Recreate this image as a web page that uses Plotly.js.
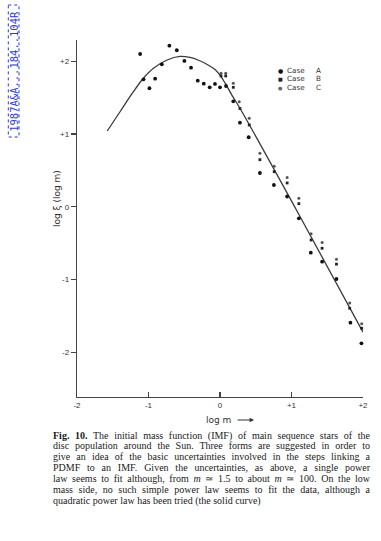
<!DOCTYPE html>
<html><head><meta charset="utf-8">
<script src="https://cdn.plot.ly/plotly-3.0.1.min.js"></script>
<style>
html,body{margin:0;padding:0;background:#fff;}
#wrap{position:relative;width:381px;height:541px;overflow:hidden;background:#fff;}
#chart{position:absolute;left:0;top:0;width:381px;height:541px;}
#caption{position:absolute;left:53px;top:430.5px;width:317px;font-family:"Liberation Serif","Times New Roman",serif;font-size:10px;line-height:10.9px;color:#1a1a1a;}
#caption div{text-align:justify;text-align-last:justify;}
#caption div.last{text-align-last:left;}
</style></head>
<body>
<div id="wrap">
<div id="chart"></div>
<div id="caption">
<div><b>Fig. 10.</b> The initial mass function (IMF) of main sequence stars of the</div>
<div>disc population around the Sun. Three forms are suggested in order to</div>
<div>give an idea of the basic uncertainties involved in the steps linking a</div>
<div>PDMF to an IMF. Given the uncertainties, as above, a single power</div>
<div>law seems to fit although, from <i>m</i> ≃ 1.5 to about <i>m</i> ≃ 100. On the low</div>
<div>mass side, no such simple power law seems to fit the data, although a</div>
<div class="last">quadratic power law has been tried (the solid curve)</div>
</div>
</div>
<script>
// ---- data ----
const caseA_logm = [-1.117,-1.070,-0.987,-0.907,-0.814,-0.708,-0.604,-0.498,-0.405,-0.311,-0.227,-0.144,-0.070,0.000,0.084,0.186,0.279,0.401,0.558,0.754,0.939,1.103,1.270,1.428,1.629,1.824,1.978,2.014];
const caseA_logxi = [2.099,1.751,1.628,1.760,1.957,2.213,2.150,2.003,1.911,1.732,1.691,1.641,1.687,1.641,1.659,1.449,1.155,0.955,0.464,0.299,0.141,-0.158,-0.630,-0.754,-0.992,-1.592,-1.875,-2.576];

const caseB_logm = [0.014,0.080,0.186,0.279,0.409,0.558,0.758,0.939,1.103,1.274,1.428,1.629,1.814,1.982,2.014];
const caseB_logxi = [1.797,1.797,1.641,1.350,1.124,0.647,0.482,0.327,0.043,-0.456,-0.570,-0.788,-1.394,-1.669,-2.400];

const caseC_logm = [0.014,0.080,0.186,0.269,0.409,0.558,0.758,0.939,1.103,1.274,1.428,1.629,1.814,1.982,2.014];
const caseC_logxi = [1.834,1.834,1.696,1.444,1.216,0.735,0.556,0.402,0.117,-0.370,-0.490,-0.721,-1.321,-1.606,-2.310];

const curve_logm = [-1.577,-1.396,-1.214,-1.075,-0.935,-0.740,-0.558,-0.419,-0.307,-0.167,-0.070,0.000,0.070,0.181,0.279,1.117,2.000];
const curve_logxi = [1.041,1.309,1.577,1.762,1.900,2.016,2.065,2.051,2.016,1.948,1.886,1.810,1.701,1.510,1.353,-0.130,-1.723];

const tickVals = [-2,-1,0,1,2];
const xTickText = ['-2','-1','0','+1','+2'];
const yTickText = ['-2','-1','0','+1','+2'];

const legendNames = ['Case','Case','Case'];
const legendLetters = ['A','B','C'];

const stampText = '1987A&A...184..104R';
const yTitle = 'log ξ (log m)';
const xTitle = 'log m';

// ---- layout helpers (pixel -> paper) ----
const W = 381, H = 541, ML = 77, MR = 18, MT = 40, MB = 144;
const PW = W - ML - MR, PH = H - MT - MB;
const px = x => (x - ML) / PW;
const py = y => (H - MB - y) / PH;

const traces = [
  {x: curve_logm, y: curve_logxi, mode: 'lines', line: {color: '#3a3a3a', width: 1.3, shape: 'spline', smoothing: 0.8}, hoverinfo: 'skip', showlegend: false},
  {x: caseC_logm, y: caseC_logxi, mode: 'markers', name: 'Case C', marker: {symbol: 'circle', size: 3, color: '#555'}, cliponaxis: false, showlegend: false},
  {x: caseB_logm, y: caseB_logxi, mode: 'markers', name: 'Case B', marker: {symbol: 'square', size: 2.8, color: '#222'}, cliponaxis: false, showlegend: false},
  {x: caseA_logm, y: caseA_logxi, mode: 'markers', name: 'Case A', marker: {symbol: 'circle', size: 3.8, color: '#111'}, cliponaxis: false, showlegend: false}
];

const ann = [];
// y title
ann.push({xref: 'paper', yref: 'paper', x: px(57), y: py(199), text: yTitle, textangle: -90, showarrow: false,
  xanchor: 'center', yanchor: 'middle', font: {family: 'DejaVu Sans', size: 9, color: '#333'}});
// x title
ann.push({xref: 'paper', yref: 'paper', x: px(233), y: py(420), text: xTitle, showarrow: false,
  xanchor: 'right', yanchor: 'middle', font: {family: 'DejaVu Sans', size: 9, color: '#333'}});
ann.push({xref: 'paper', yref: 'paper', x: px(254), y: py(420), ax: -18, ay: 0, text: '', showarrow: true,
  arrowhead: 2, arrowsize: 0.8, arrowwidth: 1.1, arrowcolor: '#333'});
// legend
const legStyle = [
  {g: '●', s: 6, c: '#111'},
  {g: '■', s: 5, c: '#222'},
  {g: '●', s: 5, c: '#666'}
];
for (let i = 0; i < 3; i++) {
  const yy = 70.5 + 8.5 * i;
  ann.push({xref: 'paper', yref: 'paper', x: px(280.5), y: py(yy), text: legStyle[i].g, showarrow: false,
    xanchor: 'center', yanchor: 'middle', borderpad: 0, font: {family: 'DejaVu Sans', size: legStyle[i].s, color: legStyle[i].c}});
  ann.push({xref: 'paper', yref: 'paper', x: px(286), y: py(yy), text: legendNames[i], showarrow: false,
    xanchor: 'left', yanchor: 'middle', borderpad: 0, font: {family: 'DejaVu Sans', size: 7.2, color: '#333'}});
  ann.push({xref: 'paper', yref: 'paper', x: px(318.5), y: py(yy), text: legendLetters[i], showarrow: false,
    xanchor: 'center', yanchor: 'middle', borderpad: 0, font: {family: 'DejaVu Sans', size: 7.2, color: '#333'}});
}
// stamp
ann.push({xref: 'paper', yref: 'paper', x: px(13.8), y: py(71), text: stampText, textangle: -90, showarrow: false,
  xanchor: 'center', yanchor: 'middle', font: {family: 'DejaVu Sans Mono', size: 10.5, color: '#2b3bd6'}});

const shapes = [
  {type: 'rect', xref: 'paper', yref: 'paper', x0: px(8.3), x1: px(19), y0: py(5), y1: py(137),
   line: {color: '#2b3bd6', width: 1, dash: 'dot'}, fillcolor: 'rgba(0,0,0,0)'}
];

const layout = {
  width: W, height: H,
  margin: {l: ML, r: MR, t: MT, b: MB, pad: 0},
  paper_bgcolor: 'rgba(0,0,0,0)', plot_bgcolor: 'rgba(0,0,0,0)',
  showlegend: false,
  xaxis: {range: [-2, 2], showgrid: false, zeroline: false, showline: true, linecolor: '#444', linewidth: 1.2,
    tickmode: 'array', tickvals: tickVals, ticktext: xTickText, ticks: 'inside', ticklen: 5, tickwidth: 1.1, tickcolor: '#444',
    tickfont: {family: 'Liberation Sans', size: 8, color: '#333'}, fixedrange: true},
  yaxis: {range: [-2.613, 2.291], showgrid: false, zeroline: false, showline: true, linecolor: '#444', linewidth: 1.2,
    tickmode: 'array', tickvals: tickVals, ticktext: yTickText, ticks: 'outside', ticklen: 5, tickwidth: 1.1, tickcolor: '#444',
    tickfont: {family: 'Liberation Sans', size: 8, color: '#333'}, fixedrange: true},
  annotations: ann,
  shapes: shapes
};

Plotly.newPlot('chart', traces, layout, {displayModeBar: false, staticPlot: true});
</script>
</body></html>
